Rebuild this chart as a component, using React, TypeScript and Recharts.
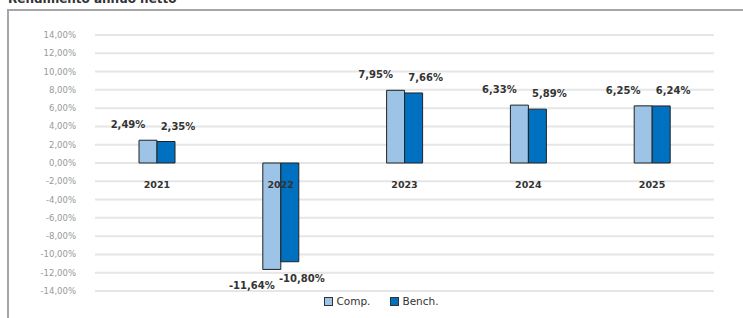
import React from "react";
import { BarChart, Bar, XAxis, YAxis, CartesianGrid, LabelList } from "recharts";

const categories = ["2021", "2022", "2023", "2024", "2025"];
const compValues = [2.49, -11.64, 7.95, 6.33, 6.25];
const benchValues = [2.35, -10.8, 7.66, 5.89, 6.24];
const yTicks = [-14, -12, -10, -8, -6, -4, -2, 0, 2, 4, 6, 8, 10, 12, 14];
const seriesNames = ["Comp.", "Bench."];
const title = "Rendimento annuo netto";

const data = categories.map((c, i) => ({ year: c, comp: compValues[i], bench: benchValues[i] }));

const W = 743;
const H = 318;
const X_AXIS_H = 1;
const M = { top: 35, right: 29, bottom: 27 - X_AXIS_H, left: 0 };
const plotH = H - M.top - M.bottom - X_AXIS_H;

const COMP = "#9dc3e6";
const BENCH = "#0070c0";
const FONT = "DejaVu Sans, Verdana, sans-serif";

const fmt = (v: number) => v.toFixed(2).replace(".", ",") + "%";

const makeLabel = (dx: number) => (props: any) => {
  const { x, y, width, height, value } = props;
  const v = Number(value);
  const cx = x + width / 2 + dx;
  const top = Math.min(y, y + height);
  const bottom = Math.max(y, y + height);
  const ty = v >= 0 ? top - 12 : bottom + 20;
  return (
    <text x={cx} y={ty} textAnchor="middle" fontFamily={FONT} fontSize={10} fontWeight="bold" fill="#333">
      {fmt(v)}
    </text>
  );
};

const XTick = (props: any) => {
  const { x, y, payload } = props;
  return (
    <text x={x} y={y - plotH / 2 + 19} textAnchor="middle" fontFamily={FONT} fontSize={9.5} fontWeight="bold" fill="#333">
      {payload.value}
    </text>
  );
};

const LegendBox = () => (
  <div style={{ position: "absolute", left: 0, top: 295, width: W, display: "flex", justifyContent: "center", fontFamily: FONT, fontSize: 10.5, color: "#333", paddingLeft: 20, boxSizing: "border-box" }}>
    {[COMP, BENCH].map((c, i) => (
      <div key={i} style={{ display: "flex", alignItems: "center", marginRight: i === 0 ? 20 : 0 }}>
        <span style={{ display: "inline-block", width: 7, height: 7, background: c, border: "1px solid #333", marginRight: 3 }} />
        <span>{seriesNames[i]}</span>
      </div>
    ))}
  </div>
);

export default function App() {
  return (
    <div style={{ position: "absolute", left: 0, top: 0, width: W, height: H, overflow: "hidden", background: "#fff" }}>
      <div style={{ position: "absolute", left: 8, top: -8, fontFamily: FONT, fontSize: 12, fontWeight: "bold", color: "#333", whiteSpace: "nowrap" }}>
        {title}
      </div>
      <div style={{ position: "absolute", left: 7, top: 9, width: W, height: H, borderTop: "2.5px solid #a6a6a6", borderLeft: "2.5px solid #a6a6a6" }} />
      <div style={{ position: "absolute", left: 0, top: 0 }}>
        <BarChart width={W} height={H} data={data} margin={M} barGap={0} barSize={18}>
          <CartesianGrid vertical={false} stroke="#e6e6e6" strokeWidth={2} />
          <YAxis
            type="number"
            domain={[-14, 14]}
            ticks={yTicks}
            interval={0}
            width={95}
            axisLine={false}
            tickLine={false}
            tickMargin={13}
            tickFormatter={fmt}
            tick={{ fontFamily: FONT, fontSize: 8.5, fill: "#999" }}
          />
          <XAxis dataKey="year" height={X_AXIS_H} axisLine={false} tickLine={false} tickMargin={0} tick={<XTick />} interval={0} />
          <Bar dataKey="comp" name={seriesNames[0]} fill={COMP} stroke="#222" strokeWidth={1} isAnimationActive={false}>
            <LabelList dataKey="comp" content={makeLabel(-20)} />
          </Bar>
          <Bar dataKey="bench" name={seriesNames[1]} fill={BENCH} stroke="#222" strokeWidth={1} isAnimationActive={false}>
            <LabelList dataKey="bench" content={makeLabel(12)} />
          </Bar>
        </BarChart>
      </div>
      <LegendBox />
    </div>
  );
}
